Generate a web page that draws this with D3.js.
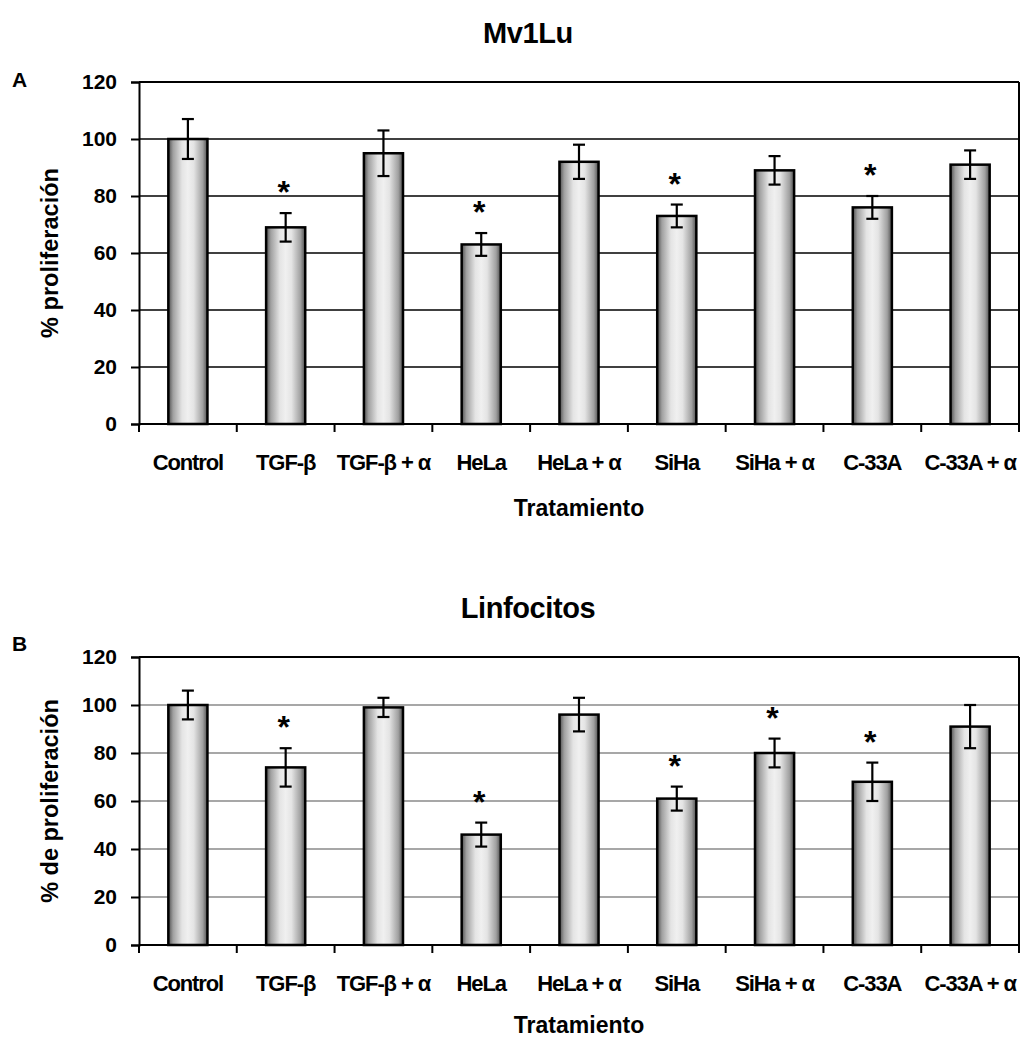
<!DOCTYPE html>
<html>
<head>
<meta charset="utf-8">
<script src="https://cdn.jsdelivr.net/npm/d3@7"></script>
<style>
  body{margin:0;background:#fff;}
  text{font-family:"Liberation Sans",Arial,sans-serif;font-weight:bold;fill:#000;}
</style>
</head>
<body>
<script>
// data
var categories = ["Control","TGF-β","TGF-β + α","HeLa","HeLa + α","SiHa","SiHa + α","C-33A","C-33A + α"];
var mv1luValues = [100,69,95,63,92,73,89,76,91];
var mv1luErrors = [7,5,8,4,6,4,5,4,5];
var mv1luStars = [false,true,false,true,false,true,false,true,false];
var linfValues = [100,74,99,46,96,61,80,68,91];
var linfErrors = [6,8,4,5,7,5,6,8,9];
var linfStars = [false,true,false,true,false,true,true,true,false];
var yTicks = [0,20,40,60,80,100,120];

var screenW = 1024, screenH = 1038;

var svg = d3.select("body").append("svg")
                .attr("width",screenW)
                .attr("height",screenH);

//bar gradient
var defs = svg.append("defs");
var grad = defs.append("linearGradient")
                .attr("id","barGrad")
                .attr("x1","0%").attr("x2","100%")
                .attr("y1","0%").attr("y2","0%");
[[0,"#4e4e4e"],[0.12,"#a0a0a0"],[0.35,"#e4e4e4"],[0.5,"#f0f0f0"],[0.65,"#e4e4e4"],[0.88,"#a0a0a0"],[1,"#4e4e4e"]]
    .forEach(function(s){
        grad.append("stop").attr("offset",s[0]).attr("stop-color",s[1]);
    });

var drawPanel = function(opt){
    var left = 139, right = 1019;
    var g = svg.append("g").attr("class","panel");

    var x = d3.scaleBand()
                .domain(categories)
                .range([left,right])
                .paddingInner(0)
                .paddingOuter(0);
    var y = d3.scaleLinear()
                .domain([0,120])
                .range([opt.bottom,opt.top]);

    //gridlines
    g.append("g").selectAll("line")
        .data(yTicks.filter(function(t){return t>0 && t<120;}))
        .enter().append("line")
        .attr("x1",left).attr("x2",right)
        .attr("y1",function(d){return y(d);})
        .attr("y2",function(d){return y(d);})
        .attr("stroke",opt.gridColor)
        .attr("stroke-width",1.5);

    //box top and right
    g.append("line")
        .attr("x1",left).attr("x2",right)
        .attr("y1",y(120)).attr("y2",y(120))
        .attr("stroke","#000").attr("stroke-width",2);
    g.append("line")
        .attr("x1",right).attr("x2",right)
        .attr("y1",y(120)).attr("y2",y(0))
        .attr("stroke","#000").attr("stroke-width",2);

    //y axis
    var yAxis = d3.axisLeft(y).tickValues(yTicks).tickSize(8).tickPadding(14);
    var ya = g.append("g")
                .attr("transform","translate("+left+",0)")
                .call(yAxis);
    ya.select(".domain").attr("stroke","#000").attr("stroke-width",2);
    ya.selectAll(".tick line").attr("stroke","#000").attr("stroke-width",2);
    ya.selectAll(".tick text")
        .style("font-family","'Liberation Sans',Arial,sans-serif")
        .style("font-weight","bold")
        .style("font-size","21px")
        .attr("fill","#000");

    //x axis, ticks between categories
    var xa = g.append("g").attr("transform","translate(0,"+opt.bottom+")");
    xa.append("line")
        .attr("x1",left).attr("x2",right)
        .attr("stroke","#000").attr("stroke-width",2);
    xa.selectAll("line.tk")
        .data(categories.concat(["end"]))
        .enter().append("line")
        .attr("class","tk")
        .attr("x1",function(d,i){return left+i*x.bandwidth();})
        .attr("x2",function(d,i){return left+i*x.bandwidth();})
        .attr("y1",0).attr("y2",8)
        .attr("stroke","#000").attr("stroke-width",2);
    xa.selectAll("text")
        .data(categories)
        .enter().append("text")
        .attr("x",function(d){return x(d)+x.bandwidth()/2;})
        .attr("y",46)
        .attr("text-anchor","middle")
        .style("font-size","22px")
        .style("letter-spacing","-1.1px")
        .text(function(d){return d;});

    //bars
    var bw = x.bandwidth()*0.4;
    g.append("g").selectAll("rect")
        .data(opt.values)
        .enter().append("rect")
        .attr("x",function(d,i){return x(categories[i])+(x.bandwidth()-bw)/2;})
        .attr("y",function(d){return y(d);})
        .attr("width",bw)
        .attr("height",function(d){return y(0)-y(d);})
        .attr("fill","url(#barGrad)")
        .attr("stroke","#000")
        .attr("stroke-width",2.5);

    //error bars and significance marks
    var eg = g.append("g").attr("class","err");
    opt.values.forEach(function(v,i){
        var cx = x(categories[i])+x.bandwidth()/2;
        var e = opt.errors[i];
        eg.append("line").attr("x1",cx).attr("x2",cx)
            .attr("y1",y(v+e)).attr("y2",y(v-e));
        eg.append("line").attr("x1",cx-6).attr("x2",cx+6)
            .attr("y1",y(v+e)).attr("y2",y(v+e));
        eg.append("line").attr("x1",cx-6).attr("x2",cx+6)
            .attr("y1",y(v-e)).attr("y2",y(v-e));
        if(opt.stars[i]){
            g.append("text")
                .attr("x",cx-2)
                .attr("y",y(v+e)-10)
                .attr("text-anchor","middle")
                .style("font-size","32px")
                .text("*");
        }
    });
    eg.selectAll("line").attr("stroke","#000").attr("stroke-width",2.2);

    //titles
    g.append("text")
        .attr("x",528).attr("y",opt.top-39)
        .attr("text-anchor","middle")
        .style("font-size","29px")
        .style("letter-spacing","-0.4px")
        .text(opt.title);
    g.append("text")
        .attr("x",12).attr("y",opt.letterY)
        .style("font-size","21px")
        .text(opt.letter);
    g.append("text")
        .attr("x",(left+right)/2).attr("y",opt.xTitleY)
        .attr("text-anchor","middle")
        .style("font-size","23px")
        .text("Tratamiento");
    g.append("text")
        .attr("transform","translate(58,"+((opt.top+opt.bottom)/2)+") rotate(-90)")
        .attr("text-anchor","middle")
        .style("font-size","23.5px")
        .text(opt.yTitle);
};

drawPanel({top:82,bottom:424,values:mv1luValues,errors:mv1luErrors,stars:mv1luStars,
           gridColor:"#000",title:"Mv1Lu",letter:"A",letterY:87,xTitleY:516,yTitle:"% proliferación"});
drawPanel({top:657,bottom:945,values:linfValues,errors:linfErrors,stars:linfStars,
           gridColor:"#8a8a8a",title:"Linfocitos",letter:"B",letterY:651,xTitleY:1033,yTitle:"% de proliferación"});
</script>
</body>
</html>
